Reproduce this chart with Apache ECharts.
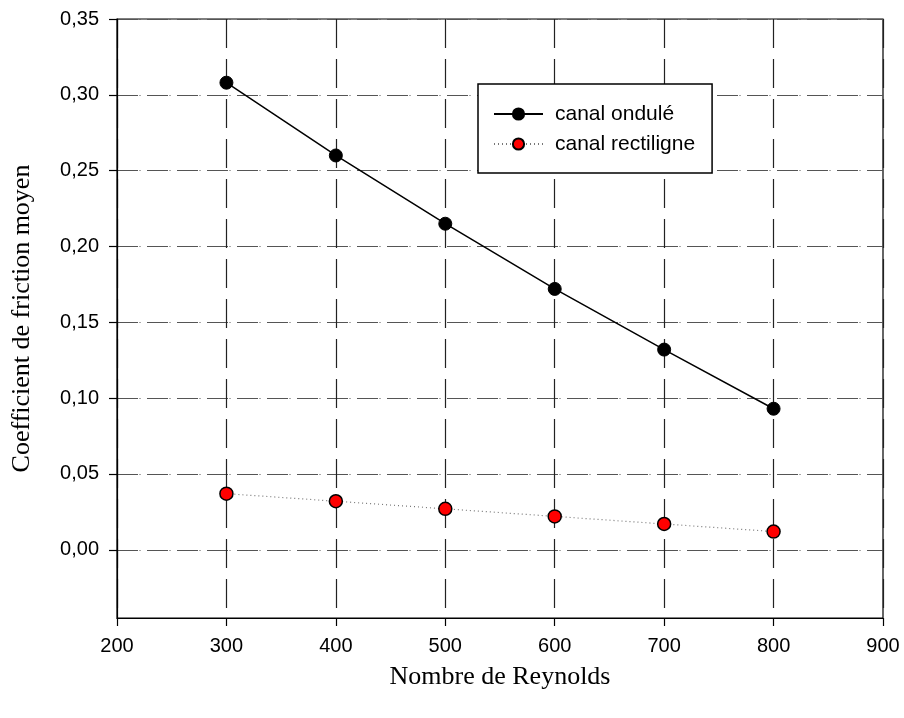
<!DOCTYPE html>
<html>
<head>
<meta charset="utf-8">
<script src="https://cdn.jsdelivr.net/npm/echarts@6/dist/echarts.min.js"></script>
<style>
  html, body { margin: 0; padding: 0; background: #fff; }
  #chart { width: 904px; height: 718px; }
</style>
</head>
<body>
<div id="chart"></div>
<script>
// Reynolds numbers and mean friction coefficients
const reynolds = [300, 400, 500, 600, 700, 800];
const canalOndule = [0.308, 0.260, 0.215, 0.172, 0.132, 0.093];
const canalRectiligne = [0.037, 0.032, 0.027, 0.022, 0.017, 0.012];

// Axis tick values
const xTicks = [200, 300, 400, 500, 600, 700, 800, 900];
const yTicks = [0.00, 0.05, 0.10, 0.15, 0.20, 0.25, 0.30, 0.35];
const yBottom = -0.045;

const seriesNames = ['canal ondulé', 'canal rectiligne'];

const sans = 'Liberation Sans, Arial, sans-serif';
const serif = 'Liberation Serif, Times New Roman, serif';
const hDash = [21, 1.5, 1, 6.5];
const vDash = [29, 11];
const comma = v => v.toFixed(2).replace('.', ',');

const L = 117, R = 21, T = 19, B = 100;
const plotH = 718 - T - B;
// pixel offset of y = 0 from the bottom of the plot
const zeroFromBottom = plotH * (0 - yBottom) / (yTicks[yTicks.length - 1] - yBottom);

const chart = echarts.init(document.getElementById('chart'), null, { renderer: 'canvas' });

chart.setOption({
  animation: false,
  backgroundColor: '#ffffff',
  grid: [
    { left: L, right: R, top: T, bottom: B, show: true, borderColor: '#000', borderWidth: 1.2, backgroundColor: 'transparent' },
    { left: L, right: R, top: T, bottom: B + zeroFromBottom }
  ],
  legend: {
    orient: 'vertical',
    left: 478,
    top: 84,
    padding: [19, 17, 18, 15],
    itemGap: 8,
    itemWidth: 49,
    itemHeight: 14,
    backgroundColor: '#fff',
    borderColor: '#000',
    borderWidth: 1.5,
    textStyle: { fontFamily: sans, fontSize: 21, lineHeight: 22, color: '#000', padding: [0, 0, 0, 7] },
    data: seriesNames
  },
  xAxis: [
    {
      gridIndex: 0,
      type: 'value',
      min: xTicks[0],
      max: xTicks[xTicks.length - 1],
      interval: 100,
      name: 'Nombre de Reynolds',
      nameLocation: 'middle',
      nameGap: 46,
      nameTextStyle: { fontFamily: serif, fontSize: 26, color: '#000' },
      axisLine: { show: true, onZero: false, lineStyle: { color: '#000', width: 1.2 } },
      axisTick: { show: true, inside: false, length: 8, lineStyle: { color: '#000', width: 1.2 } },
      axisLabel: { margin: 18, fontFamily: sans, fontSize: 20, color: '#000' },
      splitLine: { show: true, lineStyle: { color: '#222', width: 1.2, type: vDash } }
    },
    {
      gridIndex: 1,
      type: 'value',
      min: xTicks[0],
      max: xTicks[xTicks.length - 1],
      show: false
    }
  ],
  yAxis: [
    {
      gridIndex: 0,
      type: 'value',
      min: yBottom,
      max: yTicks[yTicks.length - 1],
      name: 'Coefficient de friction moyen',
      nameLocation: 'middle',
      nameGap: 82,
      nameTextStyle: { fontFamily: serif, fontSize: 26, color: '#000' },
      axisLine: { show: true, onZero: false, lineStyle: { color: '#000', width: 1.2 } },
      axisTick: { show: false },
      axisLabel: { show: false },
      splitLine: { show: false }
    },
    {
      gridIndex: 1,
      type: 'value',
      min: yTicks[0],
      max: yTicks[yTicks.length - 1],
      interval: 0.05,
      axisLine: { show: false, onZero: false },
      axisTick: { show: true, inside: false, length: 8, lineStyle: { color: '#000', width: 1.2 } },
      axisLabel: { margin: 18, fontFamily: sans, fontSize: 20, color: '#000', formatter: comma },
      splitLine: { show: true, lineStyle: { color: '#555', width: 1.2, type: hDash } }
    }
  ],
  series: [
    {
      name: seriesNames[0],
      type: 'line',
      xAxisIndex: 0,
      yAxisIndex: 0,
      data: reynolds.map((x, i) => [x, canalOndule[i]]),
      symbol: 'circle',
      symbolSize: 13,
      lineStyle: { color: '#000', width: 1.5 },
      itemStyle: { color: '#000', borderColor: '#000', borderWidth: 1 },
      z: 5
    },
    {
      name: seriesNames[1],
      type: 'line',
      xAxisIndex: 0,
      yAxisIndex: 0,
      data: reynolds.map((x, i) => [x, canalRectiligne[i]]),
      symbol: 'circle',
      symbolSize: 13,
      lineStyle: { color: '#777', width: 1.2, type: [1, 3] },
      itemStyle: { color: '#ff0000', borderColor: '#000', borderWidth: 1.5 },
      z: 5
    }
  ]
});
</script>
</body>
</html>
